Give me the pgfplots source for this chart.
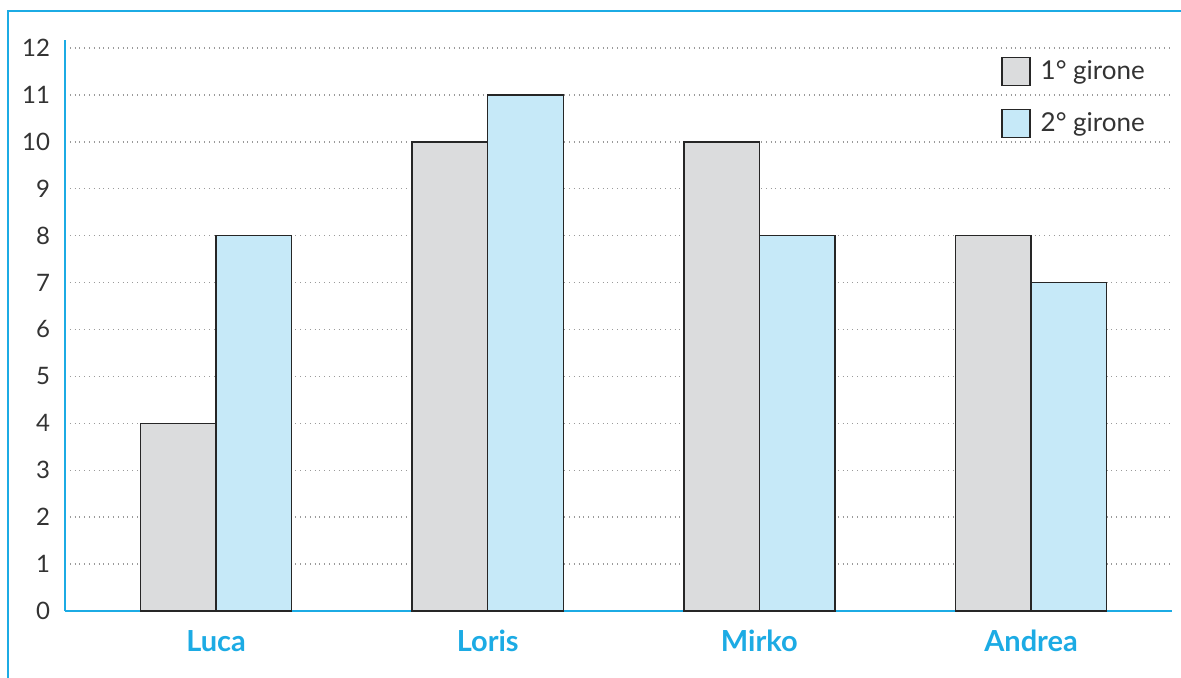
\documentclass[border=0pt]{standalone}
\usepackage{fontspec}
\setmainfont{Lato}
\usepackage{pgfplots}
\pgfplotsset{compat=1.18}
\definecolor{frameblue}{HTML}{1CABE4}
\definecolor{barGrey}{HTML}{DBDCDD}
\definecolor{barBlue}{HTML}{C6E9F8}
\definecolor{gridGrey}{HTML}{9A9A9A}
\definecolor{txt}{HTML}{333333}
\begin{document}
\begin{tikzpicture}
\useasboundingbox (0,0) rectangle (590.5pt,-339pt);
% page frame
\draw[frameblue,line width=1pt] (4pt,-339pt) -- (4pt,-5.5pt) -- (590.5pt,-5.5pt);
\begin{axis}[
  at={(32.5pt,-305.5pt)}, anchor=south west,
  scale only axis, width=553.5pt, height=285.5pt,
  xmin=-0.556, xmax=3.519, ymin=0, ymax=12.17,
  axis x line=bottom, axis y line=left,
  axis line style={frameblue,line width=1pt,-},
  xtick={0,1,2,3}, xticklabels={Luca,Loris,Mirko,Andrea},
  ytick={0,1,...,12},
  major tick length=0pt,
  ymajorgrids, grid style={gridGrey,dotted,line width=0.7pt},
  yticklabel style={font=\fontsize{12}{14}\selectfont,text=txt,xshift=-4pt},
  xticklabel style={font=\fontsize{14.5}{16}\selectfont\bfseries,text=frameblue,yshift=-6pt},
  /pgf/number format/assume math mode=true,
  ybar, bar width=0.278,
  legend style={draw=none,fill=none,at={(0.84,0.979)},anchor=north west,
    font=\fontsize{13}{15}\selectfont,text=txt,row sep=11pt,
    /tikz/every odd column/.append style={column sep=3pt}},
  legend cell align=left,
  legend image code/.code={\draw[#1,line width=0.7pt] (0pt,-7pt) rectangle (14pt,7pt);},
]
\addplot[fill=barGrey,draw=black!85,line width=0.7pt,bar shift=-0.139] coordinates {(0,4) (1,10) (2,10) (3,8)};
\addlegendentry{1° girone}
\addplot[fill=barBlue,draw=black!85,line width=0.7pt,bar shift=0.139] coordinates {(0,8) (1,11) (2,8) (3,7)};
\addlegendentry{2° girone}
\end{axis}
\end{tikzpicture}
\end{document}
